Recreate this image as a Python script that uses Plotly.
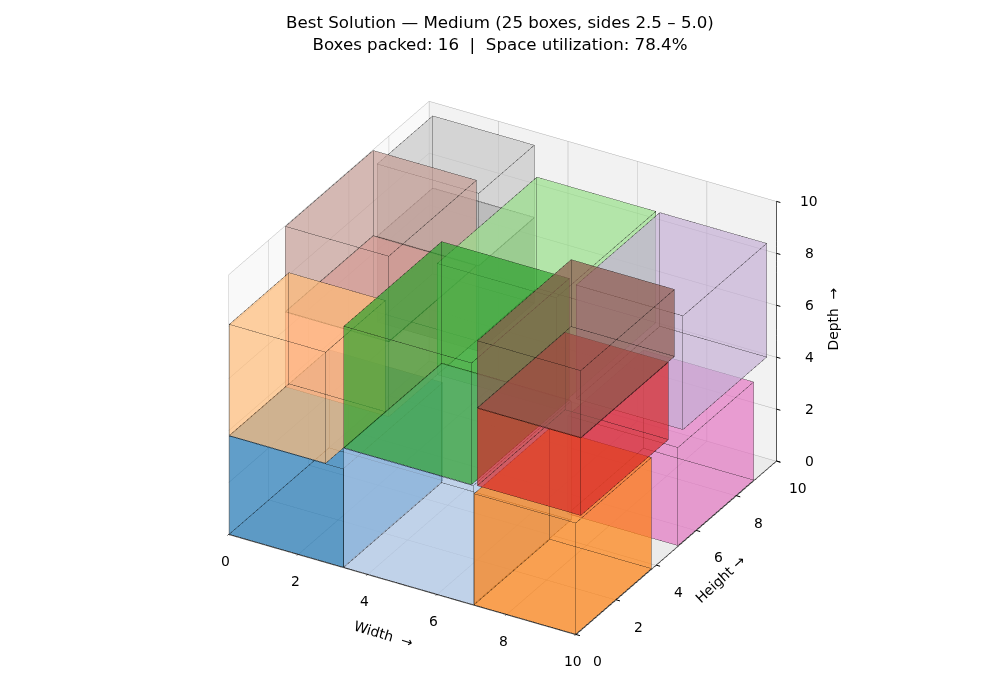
import plotly.graph_objects as go

# Packed boxes: colour, origin and size along each axis
box_colors = ["#1f77b4", "#aec7e8", "#ff7f0e", "#ffbb78", "#2ca02c", "#98df8a",
              "#d62728", "#ff9896", "#c5b0d5", "#8c564b", "#c49c94", "#e377c2",
              "#7f7f7f", "#c7c7c7"]
x0 = [0.0, 3.3, 7.05, 0.0, 3.3, 3.1, 7.0, 0.0, 6.9, 7.0, 0.0, 6.8, 0.1, 0.1]
y0 = [0.0, 0.0, 0.0, 0.0, 0.0, 5.0, 0.25, 2.8, 5.35, 0.25, 2.8, 5.1, 7.2, 7.2]
z0 = [0.0, 0.0, 0.0, 3.8, 4.6, 4.0, 4.4, 3.8, 4.3, 7.4, 6.7, 0.0, 3.4, 6.7]
dx = [3.3, 3.75, 2.95, 2.8, 3.7, 3.45, 3.0, 3.0, 3.1, 3.0, 3.0, 3.2, 2.95, 2.95]
dy = [5.0, 4.9, 3.8, 3.0, 4.9, 5.0, 4.4, 4.4, 4.2, 4.7, 4.4, 3.8, 2.8, 2.8]
dz = [3.8, 4.6, 4.3, 4.3, 4.7, 4.3, 3.0, 2.9, 4.4, 2.6, 3.3, 3.8, 3.3, 2.8]

tick_values = [0, 2, 4, 6, 8, 10]
title_text = "Best Solution — Medium (25 boxes, sides 2.5 – 5.0)<br>Boxes packed: 16  |  Space utilization: 78.4%"
FONT = "DejaVu Sans"
INSET = 0.012

# Corner indices of the faces hidden from the camera, then those facing it
BACK_FACES = [[0, 3, 7, 4], [3, 2, 6, 7], [0, 1, 2, 3]]
FRONT_FACES = [[1, 2, 6, 5], [0, 1, 5, 4], [4, 5, 6, 7]]
EDGE_PATH = [0, 1, 2, 3, 0, 4, 5, 6, 7, 4, None, 1, 5, None, 2, 6, None, 3, 7]


def corners(i):
    xa, xb = x0[i] + INSET, x0[i] + dx[i] - INSET
    ya, yb = y0[i] + INSET, y0[i] + dy[i] - INSET
    za, zb = z0[i] + INSET, z0[i] + dz[i] - INSET
    return [xa, xb, xb, xa] * 2, [ya, ya, yb, yb] * 2, [za] * 4 + [zb] * 4


def is_behind(a, b):
    tol = 0.4
    return (x0[a] + dx[a] <= x0[b] + tol
            or y0[a] >= y0[b] + dy[b] - tol
            or z0[a] + dz[a] <= z0[b] + tol)


def draw_order():
    """Back-to-front ordering of the boxes for the camera used below."""
    left = list(range(len(box_colors)))
    order = []
    while left:
        free = [a for a in left if not any(is_behind(b, a) and not is_behind(a, b) for b in left if b != a)]
        pick = min(free or left, key=lambda a: x0[a] + dx[a] / 2 - y0[a] - dy[a] / 2 + z0[a] + dz[a] / 2)
        order.append(pick)
        left.remove(pick)
    return order


def face_mesh(xs, ys, zs, face, color):
    return go.Mesh3d(
        x=[xs[p] for p in face], y=[ys[p] for p in face], z=[zs[p] for p in face],
        i=[0, 0], j=[1, 2], k=[2, 3],
        color=color, opacity=0.45, flatshading=True,
        lighting=dict(ambient=1, diffuse=0, specular=0, roughness=1, fresnel=0),
        hoverinfo="skip", showscale=False,
    )


fig = go.Figure()
for i in draw_order():
    xs, ys, zs = corners(i)
    for face in BACK_FACES + FRONT_FACES:
        fig.add_trace(face_mesh(xs, ys, zs, face, box_colors[i]))
    fig.add_trace(go.Scatter3d(
        x=[None if p is None else xs[p] for p in EDGE_PATH],
        y=[None if p is None else ys[p] for p in EDGE_PATH],
        z=[None if p is None else zs[p] for p in EDGE_PATH],
        mode="lines", line=dict(color="rgba(0,0,0,0.6)", width=1),
        hoverinfo="skip", showlegend=False,
    ))

# Axis edges
for ex, ey, ez in [([0, 10], [0, 0], [0, 0]), ([10, 10], [0, 10], [0, 0]), ([10, 10], [10, 10], [0, 10])]:
    fig.add_trace(go.Scatter3d(x=ex, y=ey, z=ez, mode="lines", line=dict(color="#000", width=1.5),
                               hoverinfo="skip", showlegend=False))


def tick(x, y, z, ax, ay):
    return dict(x=x, y=y, z=z, text=" ", showarrow=True, arrowhead=0, arrowwidth=1, arrowcolor="#000",
                standoff=0, ax=ax, ay=ay)


def label(x, y, z, text, xshift, yshift, angle=0):
    return dict(x=x, y=y, z=z, text=text, showarrow=False, xshift=xshift, yshift=yshift, textangle=angle,
                font=dict(family=FONT, size=13.9, color="#000"))


notes = []
for v in tick_values:
    notes.append(tick(v, 0, 0, -4, 4))
    notes.append(label(v, 0, 0, str(v), -3, -27))
    notes.append(tick(10, v, 0, 7, 2))
    notes.append(label(10, v, 0, str(v), 22, -27))
    notes.append(tick(10, 10, v, 7, 2))
    notes.append(label(10, 10, v, str(v), 33, 0))
notes.append(label(5, 0, 0, "Width  →", -19, -50, 17))
notes.append(label(10, 5, 0, "Height →", 44, -31, -43))
notes.append(label(10, 10, 5, "Depth  →", 57, 12, -90))


def axis(wall):
    return dict(
        title=dict(text=""), range=[0, 10], tickvals=tick_values, ticks="", showticklabels=False,
        showgrid=True, gridcolor="#b0b0b0", gridwidth=1,
        showline=False, zeroline=False,
        showbackground=True, backgroundcolor=wall, showspikes=False,
    )


fig.update_layout(
    width=1000, height=700, margin=dict(l=0, r=0, t=0, b=0),
    paper_bgcolor="#fff", showlegend=False,
    title=dict(text=title_text, x=0.5, xanchor="center", y=0.96, yanchor="top",
               font=dict(family=FONT, size=16.67, color="#000")),
    scene=dict(
        domain=dict(x=[0.005, 1], y=[0.009, 0.94]),
        xaxis=axis("#f9f9f9"),
        yaxis=axis("#f2f2f2"),
        zaxis=axis("#ebebeb"),
        aspectmode="manual", aspectratio=dict(x=1.23, y=1.23, z=0.92),
        annotations=notes,
        camera=dict(
            projection=dict(type="orthographic"),
            eye=dict(x=0.669, y=-1.159, z=0.772),
            center=dict(x=0, y=0, z=0),
            up=dict(x=0, y=0, z=1),
        ),
    ),
)

fig.write_html("out.html")
